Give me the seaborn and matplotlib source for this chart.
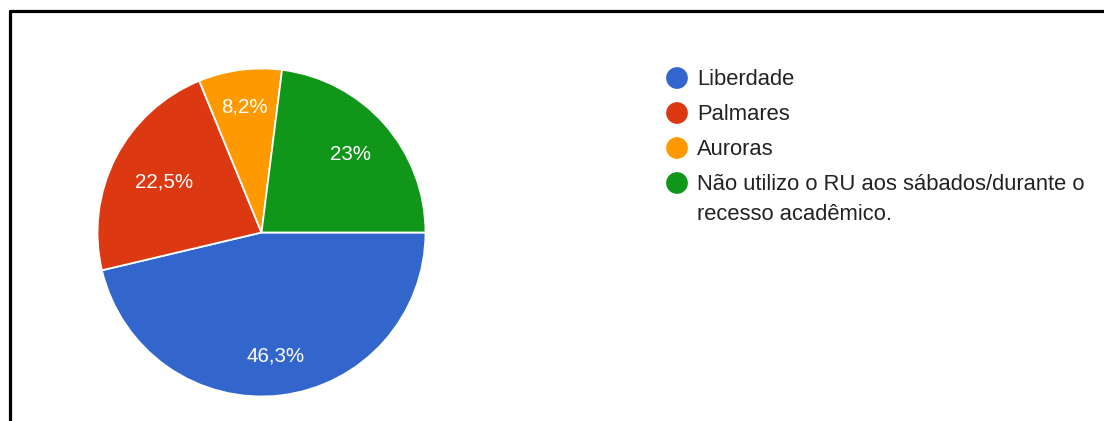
import matplotlib
matplotlib.use("Agg")
import matplotlib.pyplot as plt
from matplotlib.lines import Line2D
import numpy as np
import seaborn as sns

# ---- data ----
categories = ["Liberdade", "Palmares", "Auroras",
              "Não utilizo o RU aos sábados/durante o\nrecesso acadêmico."]
values = [46.3, 22.5, 8.2, 23.0]
pct_labels = ["46,3%", "22,5%", "8,2%", "23%"]
colors_hex = ["#3366cc", "#dc3912", "#ff9900", "#109618"]

sns.set_theme(style="white")
plt.rcParams["font.family"] = ["Liberation Sans", "DejaVu Sans"]
palette = sns.color_palette(colors_hex)

W, H = 1104, 421
fig = plt.figure(figsize=(W / 100, H / 100), dpi=100)
fig.patch.set_facecolor("white")

# pie axes (center ~ (261.5, 232.5) px, radius ~164 px)
cx, cy, r = 261.5, 232.5, 164
ax = fig.add_axes([(cx - r) / W, (H - cy - r) / H, 2 * r / W, 2 * r / H])
wedges, _ = ax.pie(values, colors=palette, startangle=0, counterclock=False,
                   wedgeprops=dict(edgecolor="white", linewidth=1.3))
ax.set_xlim(-1, 1)
ax.set_ylim(-1, 1)
ax.set_aspect("equal")
ax.axis("off")

# percentage labels inside wedges
label_dist = [0.76, 0.67, 0.77, 0.72]
for w, txt, d in zip(wedges, pct_labels, label_dist):
    ang = np.deg2rad((w.theta1 + w.theta2) / 2)
    ax.text(d * np.cos(ang), d * np.sin(ang), txt, color="white",
            fontsize=14.8, ha="center", va="center")

# overlay axes in pixel coordinates for legend and frame
ov = fig.add_axes([0, 0, 1, 1], zorder=-1)
ov.set_xlim(0, W)
ov.set_ylim(H, 0)
ov.axis("off")
ov.add_line(Line2D([10, 10], [10.5, H + 5], color="black", linewidth=2.3))
ov.add_line(Line2D([10, W + 5], [10.5, 10.5], color="black", linewidth=2.3))

leg = fig.add_axes([0, 0, 1, 1])
leg.set_xlim(0, W)
leg.set_ylim(H, 0)
leg.axis("off")
leg.patch.set_alpha(0)
ys = [78, 113, 148, 183]
for y, lab, c in zip(ys, categories, palette):
    leg.scatter([677], [y], s=245, color=c, edgecolors="none")
    leg.text(697, y - 9, lab, fontsize=15.8, color="#222222",
             ha="left", va="top", linespacing=1.55)

fig.savefig("out.png", dpi=100, facecolor="white")
